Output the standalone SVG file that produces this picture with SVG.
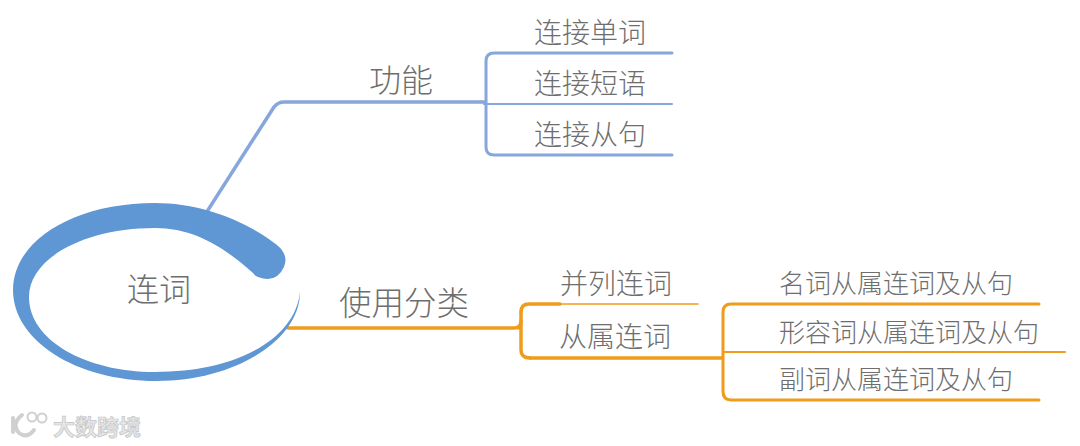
<svg xmlns="http://www.w3.org/2000/svg" width="1080" height="446" viewBox="0 0 1080 446">
<style>
text{font-family:"Noto Sans CJK SC","Noto Sans",sans-serif;font-weight:300;fill:#6e6e6e;text-anchor:middle}
.b,.o{fill:none;stroke-linecap:round;stroke-linejoin:round}
.b{stroke:#86a6dc}
.o{stroke:#ef9c1c}
.t{font-size:28px}
.m{font-size:32px}
.u{font-size:32.5px}
.s{font-size:26px}
</style>
<rect width="1080" height="446" fill="#fff"/>
<g id="connectors">
<path class="b" stroke-width="3.5" d="M208 210L274 107Q278 102 284 102H484"/>
<path class="b" stroke-width="3" d="M672 53H494Q486 53 486 61V147Q486 155 494 155H672"/>
<path class="b" stroke-width="2" d="M484 104H672"/>
<path class="o" stroke-width="3.5" d="M288 328H514Q521 328 521 321"/>
<path class="o" stroke-width="3.5" d="M521 312Q521 304 529 304H560"/>
<path class="o" stroke-width="1.5" d="M560 304H698"/>
<path class="o" stroke-width="3.5" d="M530 358Q521 358 521 350V312M521 328H519"/>
<path class="o" stroke-width="3.5" d="M530 358H722"/>
<path class="o" stroke-width="3" d="M1039 304H731Q723 304 723 312V391Q723 400 731 400H1039"/>
<path class="o" stroke-width="2" d="M723 352H1065"/>
</g>
<g id="root">
<path fill="#5f96d4" d="M300 292C300 340 235 381 157 381C75 381 13 340 13 290C13 240 75 203 155 203C200 203 245 220 277 245Q289 255 284 267Q276 284 258 277Q255 276 253 273C225 248 195 228 155 228C85 228 29 258 29 297C29 340 85 372 155 372C235 372 295 340 300 292Z"/>
<text class="m" x="159" y="301">连词</text>
</g>
<g id="n-gongneng"><text class="m" x="401" y="92">功能</text></g>
<g id="n-1"><text class="t" x="590" y="43">连接单词</text></g>
<g id="n-2"><text class="t" x="590" y="94">连接短语</text></g>
<g id="n-3"><text class="t" x="590" y="145">连接从句</text></g>
<g id="n-shiyong"><text class="u" x="404" y="315">使用分类</text></g>
<g id="n-bl"><text class="t" x="616" y="294">并列连词</text></g>
<g id="n-cs"><text class="t" x="615" y="347">从属连词</text></g>
<g id="n-a"><text class="s" x="896" y="293">名词从属连词及从句</text></g>
<g id="n-b"><text class="s" x="909" y="342">形容词从属连词及从句</text></g>
<g id="n-c"><text class="s" x="896" y="389">副词从属连词及从句</text></g>
<g id="watermark">
<path d="M13 418V432M22 415Q11 424 19 433Q27 439 34 430" fill="none" stroke="#d0d0d0" stroke-width="4" stroke-linecap="round"/>
<circle cx="32" cy="417" r="4.5" fill="none" stroke="#d0d0d0" stroke-width="2"/>
<circle cx="42" cy="418" r="4.5" fill="none" stroke="#d0d0d0" stroke-width="2"/>
<text x="97" y="435" style="font-size:22px;fill:#e6e6e6;stroke:#c4c4c4;stroke-width:.7;font-weight:700">大数跨境</text>
</g>
</svg>
